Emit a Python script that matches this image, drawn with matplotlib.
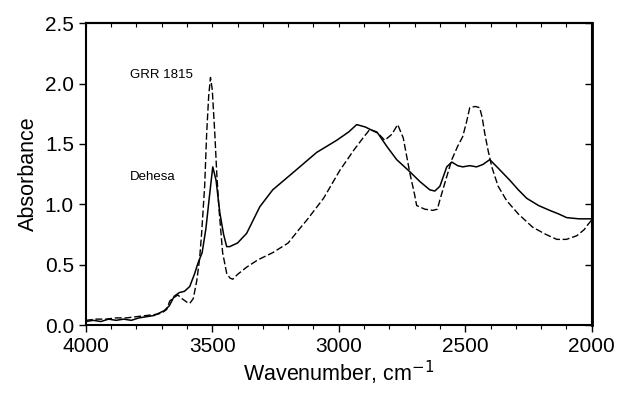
import matplotlib.pyplot as plt
from matplotlib.ticker import MultipleLocator, NullFormatter

# Wavenumber (cm-1) and absorbance
wn_grr = [4000, 3960, 3920, 3880, 3840, 3800, 3760, 3720, 3700, 3680, 3668, 3650,
          3636, 3620, 3600, 3589, 3575, 3561, 3550, 3542, 3530, 3522, 3514, 3507,
          3500, 3490, 3482, 3474, 3459, 3443, 3430, 3419, 3400, 3364, 3320, 3261,
          3200, 3154, 3126, 3060, 2996, 2940, 2900, 2877, 2850, 2818, 2790, 2767,
          2745, 2719, 2700, 2692, 2660, 2628, 2610, 2601, 2580, 2553, 2530, 2510,
          2495, 2482, 2460, 2443, 2433, 2423, 2410, 2395, 2370, 2336, 2290, 2233,
          2180, 2138, 2100, 2059, 2030, 2016, 2000]
abs_grr = [0.04, 0.05, 0.05, 0.06, 0.06, 0.07, 0.08, 0.09, 0.10, 0.13, 0.20, 0.23,
           0.25, 0.22, 0.19, 0.18, 0.22, 0.37, 0.55, 0.76, 1.15, 1.59, 1.90, 2.05,
           1.95, 1.59, 1.25, 0.98, 0.60, 0.43, 0.39, 0.38, 0.42, 0.48, 0.54, 0.60,
           0.68, 0.80, 0.87, 1.05, 1.28, 1.45, 1.56, 1.62, 1.60, 1.53, 1.58, 1.66,
           1.55, 1.26, 1.08, 0.99, 0.96, 0.95, 0.96, 1.03, 1.18, 1.37, 1.48, 1.56,
           1.68, 1.80, 1.81, 1.80, 1.72, 1.59, 1.45, 1.31, 1.15, 1.03, 0.92, 0.81,
           0.75, 0.71, 0.71, 0.74, 0.79, 0.83, 0.87]

wn_deh = [4000, 3970, 3940, 3910, 3880, 3850, 3820, 3790, 3760, 3730, 3710, 3690,
          3670, 3650, 3630, 3610, 3589, 3569, 3557, 3540, 3525, 3512, 3498, 3485,
          3470, 3455, 3443, 3431, 3400, 3364, 3312, 3261, 3182, 3087, 3008, 2960,
          2929, 2895, 2866, 2846, 2810, 2771, 2719, 2680, 2640, 2620, 2600, 2573,
          2553, 2530, 2510, 2482, 2455, 2430, 2403, 2370, 2324, 2290, 2257, 2210,
          2166, 2130, 2099, 2050, 2016, 2000]
abs_deh = [0.03, 0.04, 0.03, 0.05, 0.04, 0.05, 0.04, 0.06, 0.07, 0.08, 0.10, 0.12,
           0.16, 0.24, 0.27, 0.28, 0.32, 0.43, 0.51, 0.60, 0.80, 1.05, 1.31, 1.20,
           0.93, 0.75, 0.65, 0.65, 0.68, 0.76, 0.98, 1.12, 1.26, 1.43, 1.53, 1.60,
           1.66, 1.64, 1.61, 1.59, 1.48, 1.37, 1.27, 1.19, 1.12, 1.11, 1.15, 1.31,
           1.35, 1.32, 1.31, 1.32, 1.31, 1.33, 1.37, 1.30, 1.20, 1.12, 1.05, 0.99,
           0.95, 0.92, 0.89, 0.88, 0.88, 0.88]

plt.rcParams["font.family"] = ["Liberation Sans", "DejaVu Sans"]

fig = plt.figure(figsize=(6.17, 3.98), dpi=100)
ax = fig.add_axes([0.139, 0.183, 0.82, 0.759])

ax.plot(wn_grr, abs_grr, color="black", linewidth=1.0, linestyle=(0, (5, 2)))
ax.plot(wn_deh, abs_deh, color="black", linewidth=1.1, linestyle="-")

ax.text(3826, 2.07, "GRR 1815", fontsize=9.5, va="center", ha="left")
ax.text(3826, 1.23, "Dehesa", fontsize=9.5, va="center", ha="left")

ax.set_xlim(4000, 2000)
ax.set_ylim(0, 2.5)
ax.xaxis.set_major_locator(MultipleLocator(500))
ax.xaxis.set_minor_locator(MultipleLocator(100))
ax.yaxis.set_major_locator(MultipleLocator(0.5))
ax.yaxis.set_major_formatter(plt.FormatStrFormatter("%.1f"))

ax.set_xlabel("Wavenumber, cm$^{-1}$", fontsize=15.5, labelpad=2)
ax.set_ylabel("Absorbance", fontsize=15.5)
ax.tick_params(axis="both", which="major", labelsize=15, length=5, width=1)
ax.tick_params(axis="x", which="minor", length=3, width=0.8)

# inward ticks on the top and right frame
top = ax.secondary_xaxis("top")
top.xaxis.set_major_locator(MultipleLocator(100))
top.xaxis.set_major_formatter(NullFormatter())
top.tick_params(direction="in", length=3, width=0.8)
right = ax.secondary_yaxis("right")
right.yaxis.set_major_locator(MultipleLocator(0.5))
right.yaxis.set_major_formatter(NullFormatter())
right.tick_params(direction="in", length=5, width=1)

for s in ax.spines.values():
    s.set_linewidth(1.5)
top.spines["top"].set_linewidth(1.5)
right.spines["right"].set_linewidth(2)

fig.savefig("out.png", dpi=100)
